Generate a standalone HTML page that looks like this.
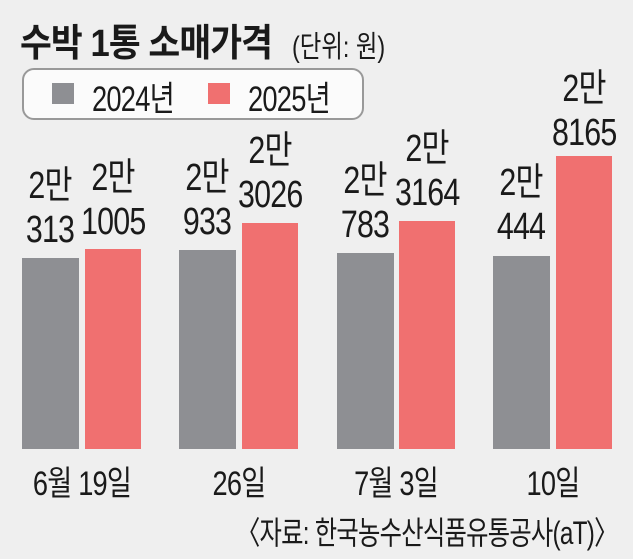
<!DOCTYPE html>
<html><head><meta charset="utf-8"><style>
body{margin:0;width:633px;height:559px;background:#efefef;position:relative;overflow:hidden;font-family:"Liberation Sans","Noto Sans CJK KR",sans-serif;color:#1a1a1a}
.t{position:absolute;white-space:nowrap;transform-origin:0 0}
.b{position:absolute;bottom:110px}
.g{background:#8e8f93}.r{background:#f07070}
.v{position:absolute;width:80px;text-align:center;font-size:38px;line-height:44px;transform:scaleX(.8);letter-spacing:-1px}
.x{position:absolute;width:160px;text-align:center;font-size:34px;transform:scaleX(.8);letter-spacing:-1px;top:456px}
</style></head><body>
<div class="t" style="left:20px;top:12px;font-size:38px;font-weight:bold;transform:scaleX(.91);letter-spacing:-1px">수박 1통 소매가격</div>
<div class="t" style="left:292px;top:22px;font-size:30px;transform:scaleX(.78)">(단위: 원)</div>
<div style="position:absolute;left:22px;top:68px;width:338px;height:48px;border:2px solid #999;border-radius:12px;background:#fbfbfb"></div>
<div style="position:absolute;left:52px;top:83px;width:22px;height:21px;background:#8e8f93"></div>
<div class="t" style="left:92px;top:71px;font-size:35px;transform:scaleX(.78);letter-spacing:-1px">2024년</div>
<div style="position:absolute;left:208px;top:83px;width:22px;height:21px;background:#f07070"></div>
<div class="t" style="left:248px;top:71px;font-size:35px;transform:scaleX(.78);letter-spacing:-1px">2025년</div>

<div class="b g" style="left:22px;width:57px;height:191px"></div>
<div class="b r" style="left:85px;width:56px;height:200px"></div>
<div class="b g" style="left:179px;width:57px;height:199px"></div>
<div class="b r" style="left:242px;width:56px;height:226px"></div>
<div class="b g" style="left:337px;width:57px;height:196px"></div>
<div class="b r" style="left:399px;width:56px;height:228px"></div>
<div class="b g" style="left:493px;width:57px;height:193px"></div>
<div class="b r" style="left:556px;width:56px;height:293px"></div>

<div class="v" style="left:10px;top:164px">2만<br>313</div>
<div class="v" style="left:73px;top:156px">2만<br>1005</div>
<div class="v" style="left:167px;top:156px">2만<br>933</div>
<div class="v" style="left:230px;top:129px">2만<br>3026</div>
<div class="v" style="left:325px;top:159px">2만<br>783</div>
<div class="v" style="left:387px;top:127px">2만<br>3164</div>
<div class="v" style="left:481px;top:161px">2만<br>444</div>
<div class="v" style="left:544px;top:67px">2만<br>8165</div>

<div class="x" style="left:2px">6월 19일</div>
<div class="x" style="left:159px">26일</div>
<div class="x" style="left:316px">7월 3일</div>
<div class="x" style="left:473px">10일</div>
<div class="t" style="left:236px;top:508px;font-size:32px;transform:scaleX(.76);letter-spacing:-1px">〈자료: 한국농수산식품유통공사(aT)〉</div>
</body></html>
